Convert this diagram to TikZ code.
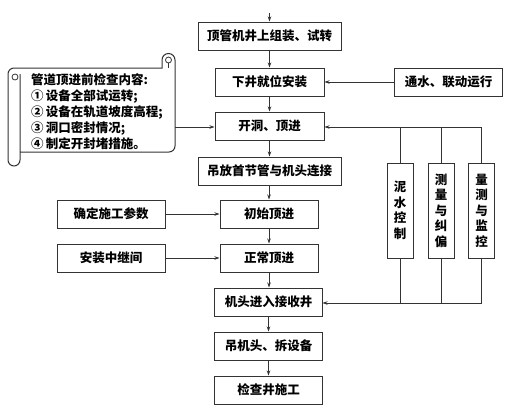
\documentclass[tikz,border=0pt]{standalone}
\usepackage{fontspec}
\setmainfont{Noto Sans CJK SC}
\usetikzlibrary{arrows.meta}
\begin{document}
\begin{tikzpicture}[x=1pt,y=-1pt,
  box/.style={draw=black!80, line width=1pt, minimum height=28pt, inner sep=0pt, font=\fontsize{12.5}{14}\selectfont\bfseries},
  vbox/.style={draw=black!80, line width=1pt, minimum width=26pt, minimum height=95pt, inner sep=0pt, align=center, font=\fontsize{12.5}{15.5}\selectfont\bfseries},
  arr/.style={-{Stealth[length=5pt,width=3.5pt]}, line width=0.7pt, draw=black!80},
  ln/.style={line width=0.7pt, draw=black!80}]
\useasboundingbox (0,0) rectangle (517,410);

% main column
\node[box, minimum width=143pt] (b1) at (269.5,36) {顶管机井上组装、试转};
\node[box, minimum width=109pt] (b2) at (269.5,82) {下井就位安装};
\node[box, minimum width=109pt] (b3) at (269.5,126) {开洞、顶进};
\node[box, minimum width=143pt] (b4) at (269.5,171) {吊放首节管与机头连接};
\node[box, minimum width=98pt] (b5) at (269,214) {初始顶进};
\node[box, minimum width=98pt] (b6) at (269,258) {正常顶进};
\node[box, minimum width=108pt] (b7) at (268.5,302) {机头进入接收井};
\node[box, minimum width=108pt] (b8) at (268.5,346) {吊机头、拆设备};
\node[box, minimum width=108pt] (b9) at (268.5,390) {检查井施工};

% right
\node[box, minimum width=108pt] (r1) at (448.5,82) {通水、联动运行};
\node[vbox] (v1) at (400,210.5) {泥\\水\\控\\制};
\node[vbox] (v2) at (441,210.5) {测\\量\\与\\纠\\偏};
\node[vbox] (v3) at (481.5,210.5) {量\\测\\与\\监\\控};

% left
\node[box, minimum width=108pt] (l1) at (111,214) {确定施工参数};
\node[box, minimum width=108pt] (l2) at (111,258) {安装中继间};

% scroll
\draw[draw=black!80, line width=1pt]
  (20,152) -- (169,152) arc[start angle=270, end angle=360, radius=6pt]
  -- (175,60) arc[start angle=0, end angle=180, radius=6.5pt]
  -- (162,68) -- (14,68) arc[start angle=90, end angle=180, radius=6pt]
  -- (8,160) arc[start angle=180, end angle=360, radius=6pt] -- (20,74);
\draw[draw=black!80, line width=0.8pt] (15,77) circle[radius=3pt];
\draw[draw=black!80, line width=0.8pt] (168.5,60) circle[radius=3pt];
\draw[draw=black!80, line width=0.8pt] (168.5,63) -- (168.5,68);
\node[anchor=west, align=left, inner sep=0pt, font=\fontsize{12.5}{16}\selectfont\bfseries] (st) at (31,112)
  {管道顶进前检查内容:\\①\,设备全部试运转;\\②\,设备在轨道坡度高程;\\③\,洞口密封情况;\\④\,制定开封堵措施。};
\coordinate (sr) at (175,127);
\coordinate (top) at (269.5,13);
\coordinate (bus) at (322.5,303);

% connectors
\draw[arr] (top) -- (b1.north);
\draw[arr] (b1) -- (b2);
\draw[arr] (b2) -- (b3);
\draw[arr] (b3) -- (b4);
\draw[arr] (b4.south -| b5) -- (b5.north);
\draw[arr] (b5) -- (b6);
\draw[arr] (b6.south) -- (b6.south |- b7.north);
\draw[arr] (b7) -- (b8);
\draw[arr] (b8) -- (b9);
\draw[arr] (r1) -- (b2);
\draw[arr] (l1) -- (b5);
\draw[arr] (l2) -- (b6);
\draw[arr] (sr) -- (sr -| b3.west);
\draw[arr] (v3.north) |- (b3.east |- sr);
\draw[ln] (v1.north) -- (v1.north |- sr);
\draw[ln] (v2.north) -- (v2.north |- sr);
\draw[arr] (v3.south) |- (bus);
\draw[ln] (v1.south) -- (v1.south |- bus);
\draw[ln] (v2.south) -- (v2.south |- bus);
\end{tikzpicture}
\end{document}
